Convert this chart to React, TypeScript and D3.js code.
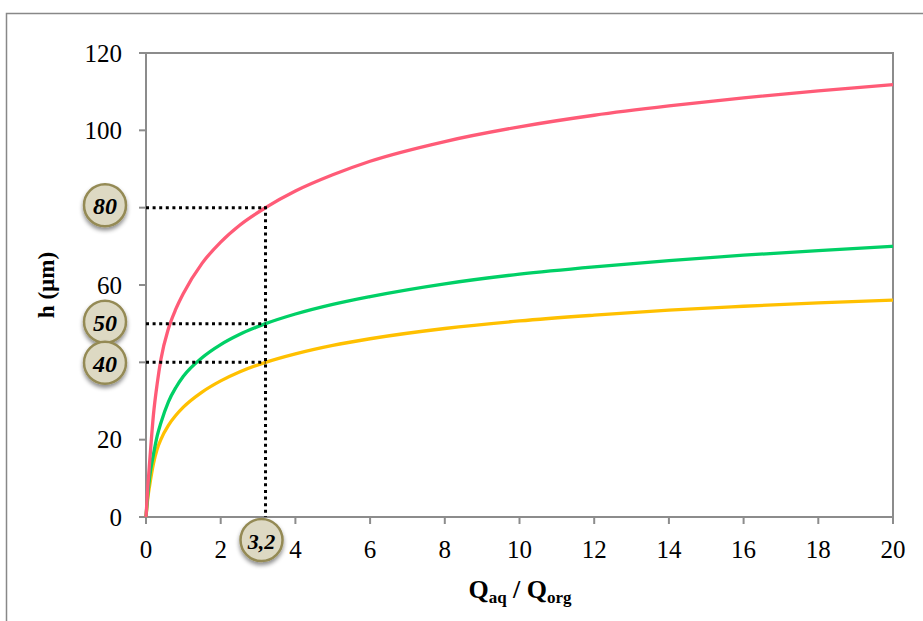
import React from "react";
import * as d3 from "d3";

const qValues = [0, 0.05, 0.1, 0.2, 0.3, 0.4, 0.6, 0.8, 1, 1.5, 2, 2.5, 3.2, 4, 5, 6, 8, 10, 12, 14, 16, 18, 20];
const redSeries = [0, 8, 14.5, 26.5, 34.5, 40.8, 48.7, 53.8, 57.8, 65.6, 71.1, 75.4, 80, 84.3, 88.5, 92, 97.1, 100.9, 103.9, 106.3, 108.4, 110.2, 111.8];
const greenSeries = [0, 6, 10.5, 16.2, 21, 24.4, 29.8, 33.5, 36.4, 41.2, 44.6, 47.2, 50, 52.5, 55, 57, 60.3, 62.8, 64.7, 66.3, 67.7, 68.9, 70];
const yellowSeries = [0, 5, 8.3, 13.8, 17.6, 20.1, 23.7, 26.3, 28.4, 32.3, 35.2, 37.5, 40, 42.2, 44.4, 46.1, 48.75, 50.7, 52.2, 53.5, 54.5, 55.4, 56.1];

const xTicks = [0, 2, 4, 6, 8, 10, 12, 14, 16, 18, 20];
const yTicks = [0, 20, 40, 60, 80, 100, 120];

const markerX = 3.2;
const markerYs = [80, 50, 40];
const markerLabels = ["80", "50", "40"];
const markerXLabel = "3,2";

const W = 923;
const H = 621;
const plot = { left: 146, right: 893, top: 53, bottom: 517 };

export default function App() {
  const x = d3.scaleLinear().domain([0, 20]).range([plot.left, plot.right]);
  const y = d3.scaleLinear().domain([0, 120]).range([plot.bottom, plot.top]);
  const line = (vals: number[]) =>
    d3
      .line<number>()
      .x((_, i) => x(qValues[i]))
      .y((v) => y(v))
      .curve(d3.curveMonotoneX)(vals) as string;

  const series = [
    { vals: yellowSeries, color: "#FFC000" },
    { vals: greenSeries, color: "#00D066" },
    { vals: redSeries, color: "#FF5B77" },
  ];
  const axisColor = "#8c8c8c";
  const serif = "Liberation Serif, Times New Roman, DejaVu Serif, serif";
  const badgeYOffsets = [-2.5, -2, 0.5];

  return (
    <svg
      width={W}
      height={H}
      style={{ position: "absolute", left: 0, top: 0, background: "#fff" }}
    >
      <defs>
        <filter id="sh" x="-50%" y="-50%" width="200%" height="200%">
          <feDropShadow dx="0" dy="3" stdDeviation="2.2" floodColor="#000" floodOpacity="0.45" />
        </filter>
      </defs>
      {/* outer frame */}
      <rect x={6.5} y={13.5} width={W + 10} height={H + 10} fill="#fff" stroke="#888" strokeWidth={1.5} />

      {/* plot border */}
      <rect
        x={plot.left}
        y={plot.top}
        width={plot.right - plot.left}
        height={plot.bottom - plot.top}
        fill="none"
        stroke={axisColor}
        strokeWidth={2}
      />
      {/* y ticks (labels hidden under the badges are not drawn) */}
      {yTicks.map((t) => (
        <g key={"y" + t}>
          <line x1={plot.left - 7} x2={plot.left} y1={y(t)} y2={y(t)} stroke={axisColor} strokeWidth={2} />
          {!markerYs.includes(t) && (
            <text
              x={plot.left - 24}
              y={y(t)}
              textAnchor="end"
              dominantBaseline="central"
              fontFamily={serif}
              fontSize={25}
              fill="#000"
            >
              {t}
            </text>
          )}
        </g>
      ))}
      {/* x ticks */}
      {xTicks.map((t) => (
        <g key={"x" + t}>
          <line x1={x(t)} x2={x(t)} y1={plot.bottom} y2={plot.bottom + 7} stroke={axisColor} strokeWidth={2} />
          <text
            x={x(t)}
            y={plot.bottom + 32}
            textAnchor="middle"
            dominantBaseline="central"
            fontFamily={serif}
            fontSize={25}
            fill="#000"
          >
            {t}
          </text>
        </g>
      ))}

      {/* curves */}
      {series.map((s, i) => (
        <path key={i} d={line(s.vals)} fill="none" stroke={s.color} strokeWidth={3.3} />
      ))}

      {/* dotted guide lines */}
      {markerYs.map((v, i) => (
        <line
          key={"h" + i}
          x1={plot.left}
          x2={x(markerX)}
          y1={y(v)}
          y2={y(v)}
          stroke="#000"
          strokeWidth={3}
          strokeDasharray="3 3.6"
        />
      ))}
      <line
        x1={x(markerX)}
        x2={x(markerX)}
        y1={y(markerYs[0]) - 1.5}
        y2={plot.bottom}
        stroke="#000"
        strokeWidth={3}
        strokeDasharray="3 3.6"
      />

      {/* axis titles */}
      <text
        transform={`translate(46, ${(plot.top + plot.bottom) / 2}) rotate(-90)`}
        textAnchor="middle"
        dominantBaseline="central"
        fontFamily={serif}
        fontWeight="bold"
        fontSize={23}
      >
        h (µm)
      </text>
      <text x={520} y={598} textAnchor="middle" fontFamily={serif} fontWeight="bold" fontSize={26}>
        Q
        <tspan fontSize={17} dy={5}>
          aq
        </tspan>
        <tspan dy={-5}> / Q</tspan>
        <tspan fontSize={17} dy={5}>
          org
        </tspan>
      </text>

      {/* badges */}
      {markerYs.map((v, i) => (
        <g key={"b" + i} transform={`translate(105, ${y(v) + badgeYOffsets[i]})`}>
          <circle r={21} fill="#DDD9C3" stroke="#948A54" strokeWidth={2.5} filter="url(#sh)" />
          <text
            textAnchor="middle"
            dominantBaseline="central"
            fontFamily={serif}
            fontWeight="bold"
            fontStyle="italic"
            fontSize={24}
            y={1}
          >
            {markerLabels[i]}
          </text>
        </g>
      ))}
      <g transform={`translate(${x(markerX) - 4}, 540)`}>
        <circle r={21} fill="#DDD9C3" stroke="#948A54" strokeWidth={2.5} filter="url(#sh)" />
        <text
          textAnchor="middle"
          dominantBaseline="central"
          fontFamily={serif}
          fontWeight="bold"
          fontStyle="italic"
          fontSize={22}
          y={1}
        >
          {markerXLabel}
        </text>
      </g>
    </svg>
  );
}
